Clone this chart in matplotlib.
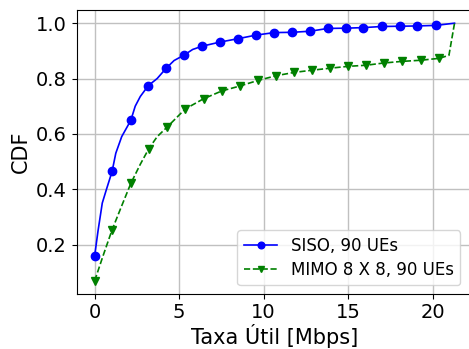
import matplotlib
matplotlib.use("Agg")
import matplotlib.pyplot as plt

# CDF curves (throughput in Mbps vs cumulative probability)
siso_x = [0.0, 0.2, 0.45, 0.7, 1.03, 1.25, 1.6, 2.14, 2.4, 2.7, 3.17, 3.7, 4.23, 4.7, 5.3, 5.8,
          6.37, 7.44, 8.49, 9.56, 10.63, 11.7, 12.76, 13.8, 14.9, 15.9, 17.0, 18.1, 19.1, 20.2, 21.3]
siso_y = [0.16, 0.25, 0.35, 0.40, 0.464, 0.53, 0.59, 0.649, 0.70, 0.735, 0.774, 0.80, 0.837, 0.865, 0.885, 0.905,
          0.917, 0.932, 0.944, 0.957, 0.966, 0.967, 0.971, 0.981, 0.982, 0.984, 0.988, 0.989, 0.990, 0.992, 1.0]
siso_marks = [0, 4, 7, 10, 12, 14] + list(range(16, 30))

mimo_x = [0.0, 0.5, 1.03, 1.6, 2.14, 2.7, 3.2, 3.7, 4.28, 5.36, 6.45, 7.52, 8.6, 9.66, 10.73,
          11.8, 12.86, 13.9, 15.0, 16.07, 17.1, 18.2, 19.3, 20.4, 20.97, 21.3]
mimo_y = [0.069, 0.16, 0.253, 0.34, 0.421, 0.49, 0.546, 0.59, 0.624, 0.690, 0.727, 0.755, 0.773, 0.793, 0.810,
          0.822, 0.830, 0.837, 0.844, 0.848, 0.856, 0.862, 0.866, 0.873, 0.884, 1.0]
mimo_marks = [0, 2, 4, 6] + list(range(8, 24))

fig = plt.figure(figsize=(4.69, 3.49), dpi=100)
ax = fig.add_axes([0.1635, 0.1585, 0.844, 0.812])

ax.plot(siso_x, siso_y, 'b-', marker='o', markevery=siso_marks, markersize=6,
        linewidth=1.2, label='SISO, 90 UEs')
ax.plot(mimo_x, mimo_y, 'g--', marker='v', markevery=mimo_marks, markersize=6,
        linewidth=1.2, label='MIMO 8 X 8, 90 UEs')

ax.set_xlabel('Taxa Útil [Mbps]', fontsize=15, labelpad=1)
ax.set_ylabel('CDF', fontsize=15)
ax.tick_params(labelsize=14)
ax.set_xticks([0, 5, 10, 15, 20])
ax.set_yticks([0.2, 0.4, 0.6, 0.8, 1.0])
ax.grid(True, color='#c0c0c0', linewidth=1)
ax.legend(loc='lower right', fontsize=12, labelspacing=0.35, markerscale=0.8,
          bbox_to_anchor=(0.99, 0.0))

fig.savefig('out.png', dpi=100)
